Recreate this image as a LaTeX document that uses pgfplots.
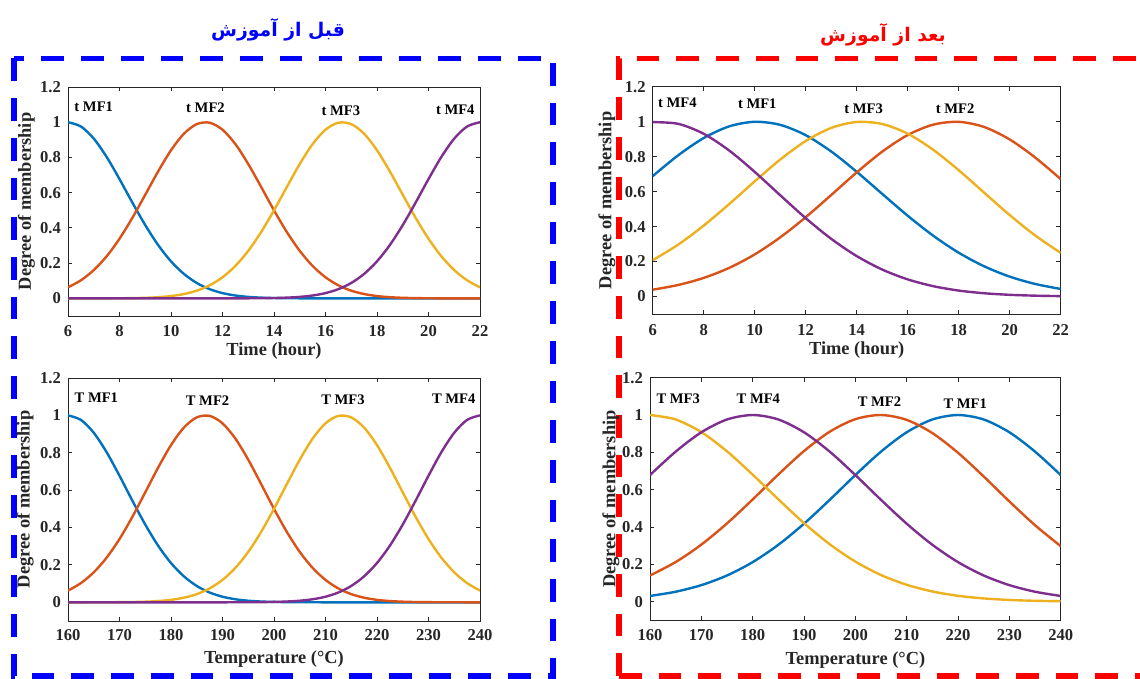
\documentclass[border=0pt]{standalone}
\usepackage{fontspec}
\setmainfont{Liberation Serif}
\newfontfamily\fafont[Script=Arabic]{DejaVu Sans}
\TeXXeTstate=1
\usepackage{pgfplots}
\usepackage{pgfplotstable}
\pgfplotsset{compat=1.18}

\definecolor{mblue}{rgb}{0,0.447,0.741}
\definecolor{morange}{rgb}{0.850,0.325,0.098}
\definecolor{myellow}{rgb}{0.929,0.694,0.125}
\definecolor{mpurple}{rgb}{0.494,0.184,0.556}
\definecolor{axgray}{rgb}{0.15,0.15,0.15}

% before training: columns hour, temperature, MF1..MF4
\pgfplotstableread{
h T m1 m2 m3 m4
6 160 1 0.0625 0 0
6.5 162.5 0.9759 0.1026 0 0
7 165 0.9071 0.1604 0.0001 0
7.5 167.5 0.8031 0.2388 0.0003 0
8 170 0.6771 0.3386 0.0007 0
8.5 172.5 0.5438 0.4573 0.0015 0
9 175 0.4160 0.5882 0.0033 0
9.5 177.5 0.3030 0.7206 0.0067 0
10 180 0.2102 0.8409 0.0131 0
10.5 182.5 0.1390 0.9346 0.0246 0
11 185 0.0875 0.9892 0.0437 0
11.5 187.5 0.0524 0.9973 0.0741 0
12 190 0.0299 0.9576 0.1197 0
12.5 192.5 0.0163 0.8758 0.1841 0.0001
13 195 0.0084 0.7628 0.2697 0.0004
13.5 197.5 0.0042 0.6328 0.3763 0.0009
14 200 0.0020 0.5000 0.5000 0.0020
14.5 202.5 0.0009 0.3763 0.6328 0.0042
15 205 0.0004 0.2697 0.7628 0.0084
15.5 207.5 0.0001 0.1841 0.8758 0.0163
16 210 0 0.1197 0.9576 0.0299
16.5 212.5 0 0.0741 0.9973 0.0524
17 215 0 0.0437 0.9892 0.0875
17.5 217.5 0 0.0246 0.9346 0.1390
18 220 0 0.0131 0.8409 0.2102
18.5 222.5 0 0.0067 0.7206 0.3030
19 225 0 0.0033 0.5882 0.4160
19.5 227.5 0 0.0015 0.4573 0.5438
20 230 0 0.0007 0.3386 0.6771
20.5 232.5 0 0.0003 0.2388 0.8031
21 235 0 0.0001 0.1604 0.9071
21.5 237.5 0 0 0.1026 0.9759
22 240 0 0 0.0625 1
}\before

% after training, time
\pgfplotstableread{
h m1 m2 m3 m4
6 0.6889 0.0390 0.2077 0.9978
7 0.8081 0.0660 0.2970 0.9880
8 0.9068 0.1064 0.4057 0.9311
9 0.9735 0.1639 0.5291 0.8353
10 0.9998 0.2409 0.6589 0.7132
11 0.9822 0.3383 0.7835 0.5796
12 0.9231 0.4537 0.8897 0.4483
13 0.8299 0.5808 0.9646 0.3301
14 0.7137 0.7101 0.9986 0.2313
15 0.5872 0.8289 0.9871 0.1543
16 0.4622 0.9240 0.9317 0.0980
17 0.3480 0.9834 0.8397 0.0592
18 0.2506 0.9995 0.7227 0.0340
19 0.1727 0.9699 0.5939 0.0186
20 0.1138 0.8987 0.4660 0.0097
21 0.0718 0.7952 0.3492 0.0048
22 0.0433 0.6718 0.2498 0.0023
}\aftertime

% after training, temperature
\pgfplotstableread{
T m1 m2 m3 m4
160 0.0304 0.1402 1 0.6783
165 0.0531 0.2121 0.9762 0.8039
170 0.0884 0.3056 0.9083 0.9075
175 0.1402 0.4192 0.8054 0.9760
180 0.2117 0.5477 0.6806 1
185 0.3046 0.6813 0.5482 0.9760
190 0.4176 0.8070 0.4208 0.9075
195 0.5453 0.9103 0.3078 0.8039
200 0.6783 0.9777 0.2146 0.6783
205 0.8039 1.0000 0.1426 0.5453
210 0.9075 0.9739 0.0903 0.4176
215 0.9760 0.9032 0.0545 0.3046
220 1 0.7976 0.0313 0.2117
225 0.9760 0.6707 0.0172 0.1402
230 0.9075 0.5370 0.0090 0.0884
235 0.8039 0.4095 0.0045 0.0531
240 0.6783 0.2973 0.0021 0.0304
}\aftertemp

\pgfplotsset{
  mfax/.style={
    scale only axis, anchor=south west,
    ymin=-0.1, ymax=1.2,
    ytick={0,0.2,0.4,0.6,0.8,1,1.2},
    yticklabels={0,0.2,0.4,0.6,0.8,1,1.2},
    tick align=inside, major tick length=2.2pt,
    axis line style={axgray, line width=0.45pt},
    tick style={axgray, line width=0.45pt},
    ticklabel style={font=\fontsize{8.3}{9}\selectfont\bfseries, text=axgray},
    label style={font=\fontsize{9.2}{10}\selectfont\bfseries, text=axgray},
    ylabel={Degree of membership},
    every axis plot/.append style={line width=1.2pt, smooth, no markers},
  },
  hourax/.style={xmin=6, xmax=22, xtick={6,8,10,12,14,16,18,20,22},
    xticklabels={6,8,10,12,14,16,18,20,22}, xlabel={Time (hour)}},
  tempax/.style={xmin=160, xmax=240, xtick={160,170,180,190,200,210,220,230,240},
    xticklabels={160,170,180,190,200,210,220,230,240}, xlabel={Temperature (°C)}},
}
\tikzset{mflab/.style={font=\fontsize{7.3}{8}\selectfont\bfseries, text=black}}

\begin{document}
\begin{tikzpicture}
\useasboundingbox (0,0) rectangle (570pt,339.5pt);

% group frames
\draw[blue, line width=2.75pt, dash pattern=on 11.35pt off 8.5pt] (7pt,310.25pt) rectangle (276.5pt,1.5pt);
\draw[red, line width=2.75pt, dash pattern=on 11.35pt off 8.5pt] (309.5pt,1.5pt) -- (309.5pt,310.25pt) -- (580pt,310.25pt);
\draw[red, line width=2.75pt, dash pattern=on 11.35pt off 8.5pt] (309.5pt,1.5pt) -- (580pt,1.5pt);

% titles
\node[font=\fafont\bfseries\fontsize{9.4}{12}\selectfont, text=blue] at (139pt,324.5pt) {\beginR قبل از آموزش\endR};
\node[font=\fafont\bfseries\fontsize{9.4}{12}\selectfont, text=red] at (441.5pt,322pt) {\beginR بعد از آموزش\endR};

% top-left
\begin{axis}[mfax, hourax, at={(34pt,181.5pt)}, width=206pt, height=114.5pt,
  xticklabel style={anchor=center, yshift=-7.75pt},
  xlabel style={at={(axis description cs:0.5,0)}, anchor=center, yshift=-17.5pt},
  ylabel style={at={(axis description cs:-0.1007,0.5)}, anchor=center}]
\addplot[mblue] table[x=h, y=m1] {\before};
\addplot[morange] table[x=h, y=m2] {\before};
\addplot[myellow] table[x=h, y=m3] {\before};
\addplot[mpurple] table[x=h, y=m4] {\before};
\node[mflab] at (axis cs:7.0,1.089) {t MF1};
\node[mflab] at (axis cs:11.34,1.081) {t MF2};
\node[mflab] at (axis cs:16.6,1.066) {t MF3};
\node[mflab] at (axis cs:21.04,1.07) {t MF4};
\end{axis}

% bottom-left
\begin{axis}[mfax, tempax, at={(34pt,29pt)}, width=206pt, height=121.5pt,
  xticklabel style={anchor=center, yshift=-7pt},
  xlabel style={at={(axis description cs:0.5,0)}, anchor=center, yshift=-19pt},
  ylabel style={at={(axis description cs:-0.104,0.5)}, anchor=center}]
\addplot[mblue] table[x=T, y=m1] {\before};
\addplot[morange] table[x=T, y=m2] {\before};
\addplot[myellow] table[x=T, y=m3] {\before};
\addplot[mpurple] table[x=T, y=m4] {\before};
\node[mflab] at (axis cs:165.5,1.093) {T MF1};
\node[mflab] at (axis cs:187.1,1.080) {T MF2};
\node[mflab] at (axis cs:213.4,1.084) {T MF3};
\node[mflab] at (axis cs:234.9,1.089) {T MF4};
\end{axis}

% top-right
\begin{axis}[mfax, hourax, at={(326.35pt,182.5pt)}, width=204pt, height=113.6pt,
  xticklabel style={anchor=center, yshift=-8pt},
  xlabel style={at={(axis description cs:0.5,0)}, anchor=center, yshift=-18pt},
  ylabel style={at={(axis description cs:-0.112,0.5)}, anchor=center}]
\addplot[mblue] table[x=h, y=m1] {\aftertime};
\addplot[morange] table[x=h, y=m2] {\aftertime};
\addplot[myellow] table[x=h, y=m3] {\aftertime};
\addplot[mpurple] table[x=h, y=m4] {\aftertime};
\node[mflab] at (axis cs:6.97,1.108) {t MF4};
\node[mflab] at (axis cs:10.1,1.101) {t MF1};
\node[mflab] at (axis cs:14.27,1.076) {t MF3};
\node[mflab] at (axis cs:17.86,1.073) {t MF2};
\end{axis}

% bottom-right
\begin{axis}[mfax, tempax, at={(325pt,29.35pt)}, width=205.35pt, height=121.3pt,
  xticklabel style={anchor=center, yshift=-7.5pt},
  xlabel style={at={(axis description cs:0.5,0)}, anchor=center, yshift=-20pt},
  ylabel style={at={(axis description cs:-0.095,0.5)}, anchor=center}]
\addplot[mblue] table[x=T, y=m1] {\aftertemp};
\addplot[morange] table[x=T, y=m2] {\aftertemp};
\addplot[myellow] table[x=T, y=m3] {\aftertemp};
\addplot[mpurple] table[x=T, y=m4] {\aftertemp};
\node[mflab] at (axis cs:165.5,1.089) {T MF3};
\node[mflab] at (axis cs:181.1,1.086) {T MF4};
\node[mflab] at (axis cs:204.7,1.071) {T MF2};
\node[mflab] at (axis cs:221.4,1.059) {T MF1};
\end{axis}
\end{tikzpicture}
\end{document}
